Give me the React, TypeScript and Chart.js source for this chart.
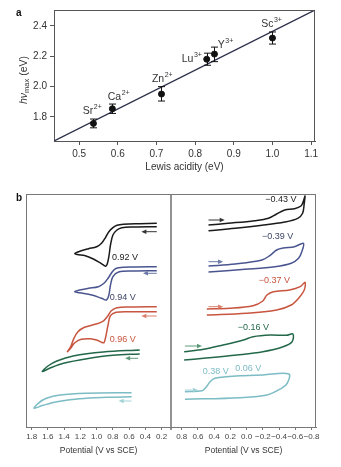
import React, { useEffect, useRef } from "react";
import { Chart, registerables } from "chart.js";
Chart.register(...registerables);

const FONT = '"Liberation Sans", Arial, Helvetica, sans-serif';

// ---------------- Panel a data ----------------
const ions = ["Sr", "Ca", "Zn", "Lu", "Y", "Sc"];
const charges = ["2+", "2+", "2+", "3+", "3+", "3+"];
const lewisAcidity = [0.537, 0.586, 0.713, 0.83, 0.85, 1.0];
const hvMax = [1.756, 1.853, 1.95, 2.18, 2.214, 2.32];
const errLow = [1.727, 1.822, 1.904, 2.14, 2.164, 2.28];
const errHigh = [1.785, 1.884, 1.999, 2.22, 2.26, 2.36];
const fitX = [0.435, 1.11];
const fitY = [1.64, 2.505];
const aXTicks = [0.5, 0.6, 0.7, 0.8, 0.9, 1.0, 1.1];
const aYTicks = [1.8, 2.0, 2.2, 2.4];

// ---------------- Panel b data (potential V, current a.u.) ----------------
const leftTicks = [1.8, 1.6, 1.4, 1.2, 1.0, 0.8, 0.6, 0.4, 0.2];
const rightTicks = [0.8, 0.6, 0.4, 0.2, 0.0, -0.2, -0.4, -0.6, -0.8];

const leftBlackV = [0.26, 0.47, 0.67, 0.75, 0.8, 0.85, 0.89, 0.94, 1.0, 1.1, 1.19, 1.24, 1.27, 1.24, 1.14, 1.04, 0.96, 0.91, 0.89, 0.87, 0.85, 0.83, 0.8, 0.75, 0.69, 0.55, 0.26];
const leftBlackI = [203.7, 203.3, 202.7, 201.7, 199.3, 195.3, 189.7, 183.7, 180.3, 178.3, 176.3, 174.7, 173.3, 172.5, 171.3, 168, 164.3, 161.7, 160.7, 163, 170.3, 182, 192, 197, 199.3, 200, 200.3];
const leftBlueV = [0.26, 0.55, 0.73, 0.78, 0.82, 0.86, 0.91, 0.98, 1.1, 1.21, 1.27, 1.21, 1.06, 0.94, 0.88, 0.85, 0.83, 0.8, 0.73, 0.55, 0.26];
const leftBlueI = [160.3, 160, 159.3, 157.7, 153.7, 148.7, 143.7, 140.3, 138.7, 137, 135.3, 134.3, 132, 128.7, 127, 132, 142, 150.3, 155, 156, 156.3];
const leftRedV = [0.26, 0.59, 0.75, 0.82, 0.87, 0.93, 1.02, 1.15, 1.23, 1.28, 1.32, 1.36, 1.32, 1.27, 1.19, 1.08, 1.0, 0.94, 0.91, 0.89, 0.86, 0.83, 0.76, 0.59, 0.26];
const leftRedI = [120.3, 120, 119.3, 116.3, 110.3, 105.3, 102.7, 99.7, 95.3, 88.7, 80.3, 75.3, 78.7, 84.3, 87.7, 88.3, 87, 84.7, 84.3, 89.7, 102, 111.3, 114.7, 115.3, 115.3];
const leftGreenV = [0.47, 0.92, 1.29, 1.49, 1.6, 1.67, 1.58, 1.41, 1.12, 0.8, 0.47];
const leftGreenI = [77, 75, 71, 66, 61, 55.3, 58.7, 63.7, 68.3, 71.7, 73];
const leftCyanV = [0.57, 1.12, 1.45, 1.62, 1.72, 1.77, 1.66, 1.49, 1.21, 0.88, 0.57];
const leftCyanI = [34.3, 33.7, 32, 28.7, 23.7, 18.7, 21.7, 25.3, 28.3, 29.7, 30.3];

const rightBlackV = [0.47, 0.23, -0.1, -0.27, -0.37, -0.47, -0.59, -0.67, -0.7, -0.72, -0.71, -0.69, -0.63, -0.47, -0.19, 0.14, 0.47];
const rightBlackI = [202, 203.7, 206.3, 208.7, 213, 217, 218.3, 221, 226, 231, 223.7, 213.7, 208.7, 205, 201.7, 198.7, 196.3];
const rightBlueV = [0.47, 0.14, -0.19, -0.29, -0.37, -0.45, -0.59, -0.7, -0.68, -0.64, -0.55, -0.35, 0.02, 0.47];
const rightBlueI = [161, 163, 167, 171.7, 177, 179, 180.3, 183.7, 175.3, 168.7, 163.7, 160.3, 157.7, 155];
const rightRedV = [0.49, 0.21, -0.08, -0.2, -0.25, -0.33, -0.53, -0.66, -0.72, -0.71, -0.64, -0.55, -0.37, 0.0, 0.49];
const rightRedI = [118, 118.7, 121.3, 126, 132, 135.3, 137, 140.3, 144.7, 137, 128.7, 122, 117, 113.7, 112];
const rightGreenV = [0.77, 0.53, 0.29, 0.04, -0.08, -0.29, -0.49, -0.57, -0.56, -0.45, -0.2, 0.12, 0.53, 0.77];
const rightGreenI = [75.3, 77.7, 82, 87, 90.3, 92, 91.7, 93, 85.3, 80.3, 75.3, 72, 68.7, 67];
const rightCyanV = [0.76, 0.55, 0.5, 0.45, 0.39, 0.25, 0.04, -0.2, -0.52, -0.5, -0.43, -0.25, 0.08, 0.76];
const rightCyanI = [35.3, 36.3, 39.7, 45.3, 48.7, 50.3, 51.3, 52, 53, 43.7, 38.7, 32, 29.3, 27.7];

const leftPeakLabels = ["0.92 V", "0.94 V", "0.96 V"];
const leftPeakLabelV = [0.81, 0.84, 0.84];
const leftPeakLabelI = [169, 129, 87];
const rightPeakLabels = ["\u22120.43 V", "\u22120.39 V", "\u22120.37 V", "\u22120.16 V", "0.38 V", "0.06 V"];
const rightPeakLabelV = [-0.23, -0.19, -0.15, 0.11, 0.54, 0.14];
const rightPeakLabelI = [227, 190, 146, 99, 55, 58];

const leftArrowFromV = [0.26, 0.26, 0.26, 0.49, 0.57];
const leftArrowToV = [0.45, 0.43, 0.45, 0.65, 0.73];
const leftArrowI = [195.3, 153.7, 111, 68.7, 26];
const rightArrowFromV = [0.47, 0.47, 0.47, 0.76, 0.76];
const rightArrowToV = [0.27, 0.29, 0.29, 0.55, 0.6];
const rightArrowI = [207, 165.3, 120.3, 81, 37];

// ---------------- Styles ----------------
const curveColors = ["#1a1a1a", "#4a5590", "#c8553f", "#24684a", "#7cbcc4"];
const arrowColors = ["#333333", "#6b78a8", "#d9806c", "#5e9a78", "#a3d2d7"];
const leftLabelColors = ["#222222", "#3d4566", "#c8553f"];
const rightLabelColors = ["#222222", "#3d4566", "#c8553f", "#24684a", "#7cbcc4", "#7cbcc4"];
const ionLabelOffsets = [[-10.6, -12], [-4.6, -12], [-9.6, -15], [-25, 0], [3.4, -9], [-11.3, -14]];

function fmtTick(v: number) {
  const n = Number(v);
  if (Math.abs(n) < 1e-9) return "0.0";
  return (n < 0 ? "\u2212" : "") + Math.abs(n).toFixed(1);
}

function drawSupText(ctx: CanvasRenderingContext2D, base: string, sup: string, x: number, y: number) {
  ctx.font = `10.5px ${FONT}`;
  ctx.textAlign = "left";
  ctx.textBaseline = "middle";
  ctx.fillText(base, x, y);
  const w = ctx.measureText(base).width;
  ctx.font = `7px ${FONT}`;
  ctx.fillText(sup, x + w + 0.5, y - 4);
}

const panelAPlugin = {
  id: "panelA",
  afterDatasetsDraw(chart: any) {
    const { ctx, chartArea: ca, scales } = chart;
    const x = scales.x, y = scales.y;
    ctx.save();
    ctx.strokeStyle = "#555";
    ctx.lineWidth = 1;
    ctx.beginPath();
    ctx.moveTo(ca.left, ca.top + 0.5);
    ctx.lineTo(ca.right - 0.5, ca.top + 0.5);
    ctx.lineTo(ca.right - 0.5, ca.bottom);
    ctx.stroke();
    // error bars
    ctx.strokeStyle = "#111";
    ctx.lineWidth = 1;
    lewisAcidity.forEach((v, i) => {
      const px = Math.round(x.getPixelForValue(v)) + 0.5;
      const y1 = y.getPixelForValue(errLow[i]);
      const y2 = y.getPixelForValue(errHigh[i]);
      ctx.beginPath();
      ctx.moveTo(px, y1); ctx.lineTo(px, y2);
      ctx.moveTo(px - 3.5, y1); ctx.lineTo(px + 3.5, y1);
      ctx.moveTo(px - 3.5, y2); ctx.lineTo(px + 3.5, y2);
      ctx.stroke();
    });
    // ion labels
    ctx.fillStyle = "#333";
    ions.forEach((ion, i) => {
      const px = x.getPixelForValue(lewisAcidity[i]);
      const py = y.getPixelForValue(hvMax[i]);
      drawSupText(ctx, ion, charges[i], px + ionLabelOffsets[i][0], py + ionLabelOffsets[i][1]);
    });
    // panel letter
    ctx.font = `bold 10px ${FONT}`;
    ctx.fillStyle = "#111";
    ctx.textAlign = "left";
    ctx.textBaseline = "middle";
    ctx.fillText("a", 16, 13);
    // x title
    ctx.font = `10px ${FONT}`;
    ctx.fillStyle = "#333";
    ctx.textAlign = "center";
    ctx.fillText("Lewis acidity (eV)", (ca.left + ca.right) / 2, 167);
    // y title
    ctx.save();
    ctx.translate(24, 80);
    ctx.rotate(-Math.PI / 2);
    ctx.textBaseline = "middle";
    ctx.textAlign = "left";
    const parts: [string, string, number][] = [
      ["h\u03bd", `italic 10.5px ${FONT}`, 0],
      ["max", `7.5px ${FONT}`, 3],
      [" (eV)", `10.5px ${FONT}`, 0],
    ];
    let total = 0;
    parts.forEach((p) => { ctx.font = p[1]; total += ctx.measureText(p[0]).width; });
    let x0 = -total / 2;
    parts.forEach((p) => { ctx.font = p[1]; ctx.fillText(p[0], x0, p[2]); x0 += ctx.measureText(p[0]).width; });
    ctx.restore();
    ctx.restore();
  },
};

function drawArrow(ctx: CanvasRenderingContext2D, x1: number, y1: number, x2: number, y2: number, color: string) {
  const ang = Math.atan2(y2 - y1, x2 - x1);
  ctx.strokeStyle = color;
  ctx.fillStyle = color;
  ctx.lineWidth = 1;
  ctx.beginPath();
  ctx.moveTo(x1, y1);
  ctx.lineTo(x2 - 3 * Math.cos(ang), y2 - 3 * Math.sin(ang));
  ctx.stroke();
  ctx.beginPath();
  ctx.moveTo(x2, y2);
  ctx.lineTo(x2 - 5 * Math.cos(ang) + 2.2 * Math.sin(ang), y2 - 5 * Math.sin(ang) - 2.2 * Math.cos(ang));
  ctx.lineTo(x2 - 5 * Math.cos(ang) - 2.2 * Math.sin(ang), y2 - 5 * Math.sin(ang) + 2.2 * Math.cos(ang));
  ctx.closePath();
  ctx.fill();
}

function makePanelBPlugin(side: "left" | "right") {
  return {
    id: "panelB" + side,
    afterDatasetsDraw(chart: any) {
      const { ctx, chartArea: ca, scales } = chart;
      const x = scales.x, y = scales.y;
      ctx.save();
      ctx.strokeStyle = "#777";
      ctx.lineWidth = 1;
      ctx.beginPath();
      ctx.moveTo(ca.left, ca.top + 0.5);
      ctx.lineTo(ca.right, ca.top + 0.5);
      if (side === "left") {
        ctx.moveTo(ca.left + 0.5, ca.top);
        ctx.lineTo(ca.left + 0.5, ca.bottom);
      } else {
        ctx.moveTo(ca.right - 0.5, ca.top);
        ctx.lineTo(ca.right - 0.5, ca.bottom);
      }
      ctx.stroke();
      if (side === "left") {
        ctx.lineWidth = 1.6;
        ctx.strokeStyle = "#777";
        ctx.beginPath();
        ctx.moveTo(ca.right, ca.top);
        ctx.lineTo(ca.right, ca.bottom + 3);
        ctx.stroke();
      }
      const fromV = side === "left" ? leftArrowFromV : rightArrowFromV;
      const toV = side === "left" ? leftArrowToV : rightArrowToV;
      const ai = side === "left" ? leftArrowI : rightArrowI;
      fromV.forEach((v, i) => {
        const py = y.getPixelForValue(ai[i]);
        drawArrow(ctx, x.getPixelForValue(v), py, x.getPixelForValue(toV[i]), py, arrowColors[i]);
      });
      const labels = side === "left" ? leftPeakLabels : rightPeakLabels;
      const lv = side === "left" ? leftPeakLabelV : rightPeakLabelV;
      const li = side === "left" ? leftPeakLabelI : rightPeakLabelI;
      const lc = side === "left" ? leftLabelColors : rightLabelColors;
      ctx.font = `9px ${FONT}`;
      ctx.textAlign = "left";
      ctx.textBaseline = "middle";
      labels.forEach((t, i) => {
        ctx.fillStyle = lc[i];
        ctx.fillText(t, x.getPixelForValue(lv[i]), y.getPixelForValue(li[i]));
      });
      ctx.fillStyle = "#333";
      ctx.textAlign = "center";
      ctx.font = `8.5px ${FONT}`;
      ctx.fillText("Potential (V vs SCE)", (ca.left + ca.right) / 2, 451);
      if (side === "left") {
        ctx.font = `bold 10px ${FONT}`;
        ctx.fillStyle = "#111";
        ctx.textAlign = "left";
        ctx.fillText("b", 16, 198);
      }
      ctx.restore();
    },
  };
}

function curve(vs: number[], is: number[], color: string) {
  return {
    type: "line" as const,
    data: vs.map((v, k) => ({ x: v, y: is[k] })),
    borderColor: color,
    borderWidth: 1.5,
    pointRadius: 0,
    tension: 0.35,
    fill: false,
    clip: false as any,
  };
}

function bOptions(side: "left" | "right") {
  const isLeft = side === "left";
  const ticksArr = isLeft ? leftTicks : rightTicks;
  return {
    responsive: false,
    animation: false as const,
    events: [] as any[],
    layout: { padding: isLeft ? { left: 26, right: 170, top: 194, bottom: 10 } : { left: 171, right: 25, top: 194, bottom: 10 } },
    plugins: { legend: { display: false }, tooltip: { enabled: false } },
    scales: {
      x: {
        type: "linear" as const,
        reverse: true,
        min: isLeft ? 0.085 : -0.855,
        max: isLeft ? 1.87 : 0.932,
        afterBuildTicks: (s: any) => { s.ticks = ticksArr.map((v) => ({ value: v })); },
        afterFit: (s: any) => { s.height = 30; },
        grid: { drawOnChartArea: false, drawTicks: true, tickLength: 3, color: "#777" },
        border: { display: true, color: "#777" },
        ticks: { font: { family: FONT, size: 8 }, color: "#444", padding: 2, maxRotation: 0, autoSkip: false, callback: (v: any) => fmtTick(v) },
      },
      y: { type: "linear" as const, display: false, min: 0, max: 233 },
    },
  };
}

export default function App() {
  const refA = useRef<HTMLCanvasElement>(null);
  const refL = useRef<HTMLCanvasElement>(null);
  const refR = useRef<HTMLCanvasElement>(null);

  useEffect(() => {
    const chartA = new Chart(refA.current!, {
      type: "scatter",
      data: {
        datasets: [
          {
            type: "line",
            data: fitX.map((v, i) => ({ x: v, y: fitY[i] })),
            borderColor: "#2c2f4a",
            borderWidth: 1.3,
            pointRadius: 0,
            order: 2,
          } as any,
          {
            type: "scatter",
            data: lewisAcidity.map((v, i) => ({ x: v, y: hvMax[i] })),
            backgroundColor: "#111",
            borderColor: "#111",
            pointRadius: 3,
            order: 1,
          },
        ],
      },
      options: {
        responsive: false,
        animation: false,
        events: [],
        layout: { padding: { left: 0, top: 10, right: 26, bottom: 277 } },
        plugins: { legend: { display: false }, tooltip: { enabled: false } },
        scales: {
          x: {
            type: "linear",
            min: 0.435,
            max: 1.11,
            afterBuildTicks: (s: any) => { s.ticks = aXTicks.map((v) => ({ value: v })); },
            afterFit: (s: any) => { s.height = 49; },
            grid: { drawOnChartArea: false, drawTicks: true, tickLength: 4, color: "#555" },
            border: { display: true, color: "#555" },
            ticks: { font: { family: FONT, size: 10 }, color: "#333", padding: 3, maxRotation: 0, autoSkip: false, callback: (v: any) => Number(v).toFixed(1) },
          },
          y: {
            type: "linear",
            min: 1.64,
            max: 2.505,
            afterBuildTicks: (s: any) => { s.ticks = aYTicks.map((v) => ({ value: v })); },
            afterFit: (s: any) => { s.width = 54; },
            grid: { drawOnChartArea: false, drawTicks: true, tickLength: 4, color: "#555" },
            border: { display: true, color: "#555" },
            ticks: { font: { family: FONT, size: 10 }, color: "#333", padding: 3, autoSkip: false, callback: (v: any) => Number(v).toFixed(1) },
          },
        },
      } as any,
      plugins: [panelAPlugin],
    });

    const chartL = new Chart(refL.current!, {
      type: "line",
      data: {
        datasets: [
          curve(leftBlackV, leftBlackI, curveColors[0]),
          curve(leftBlueV, leftBlueI, curveColors[1]),
          curve(leftRedV, leftRedI, curveColors[2]),
          curve(leftGreenV, leftGreenI, curveColors[3]),
          curve(leftCyanV, leftCyanI, curveColors[4]),
        ],
      },
      options: bOptions("left") as any,
      plugins: [makePanelBPlugin("left")],
    });

    const chartR = new Chart(refR.current!, {
      type: "line",
      data: {
        datasets: [
          curve(rightBlackV, rightBlackI, curveColors[0]),
          curve(rightBlueV, rightBlueI, curveColors[1]),
          curve(rightRedV, rightRedI, curveColors[2]),
          curve(rightGreenV, rightGreenI, curveColors[3]),
          curve(rightCyanV, rightCyanI, curveColors[4]),
        ],
      },
      options: bOptions("right") as any,
      plugins: [makePanelBPlugin("right")],
    });

    return () => {
      chartA.destroy();
      chartL.destroy();
      chartR.destroy();
    };
  }, []);

  const cs: React.CSSProperties = { position: "absolute", left: 0, top: 0 };
  return (
    <div style={{ position: "fixed", left: 0, top: 0, width: 341, height: 467, background: "#fff" }}>
      <canvas ref={refA} width={341} height={467} style={cs} />
      <canvas ref={refL} width={341} height={467} style={cs} />
      <canvas ref={refR} width={341} height={467} style={cs} />
    </div>
  );
}
